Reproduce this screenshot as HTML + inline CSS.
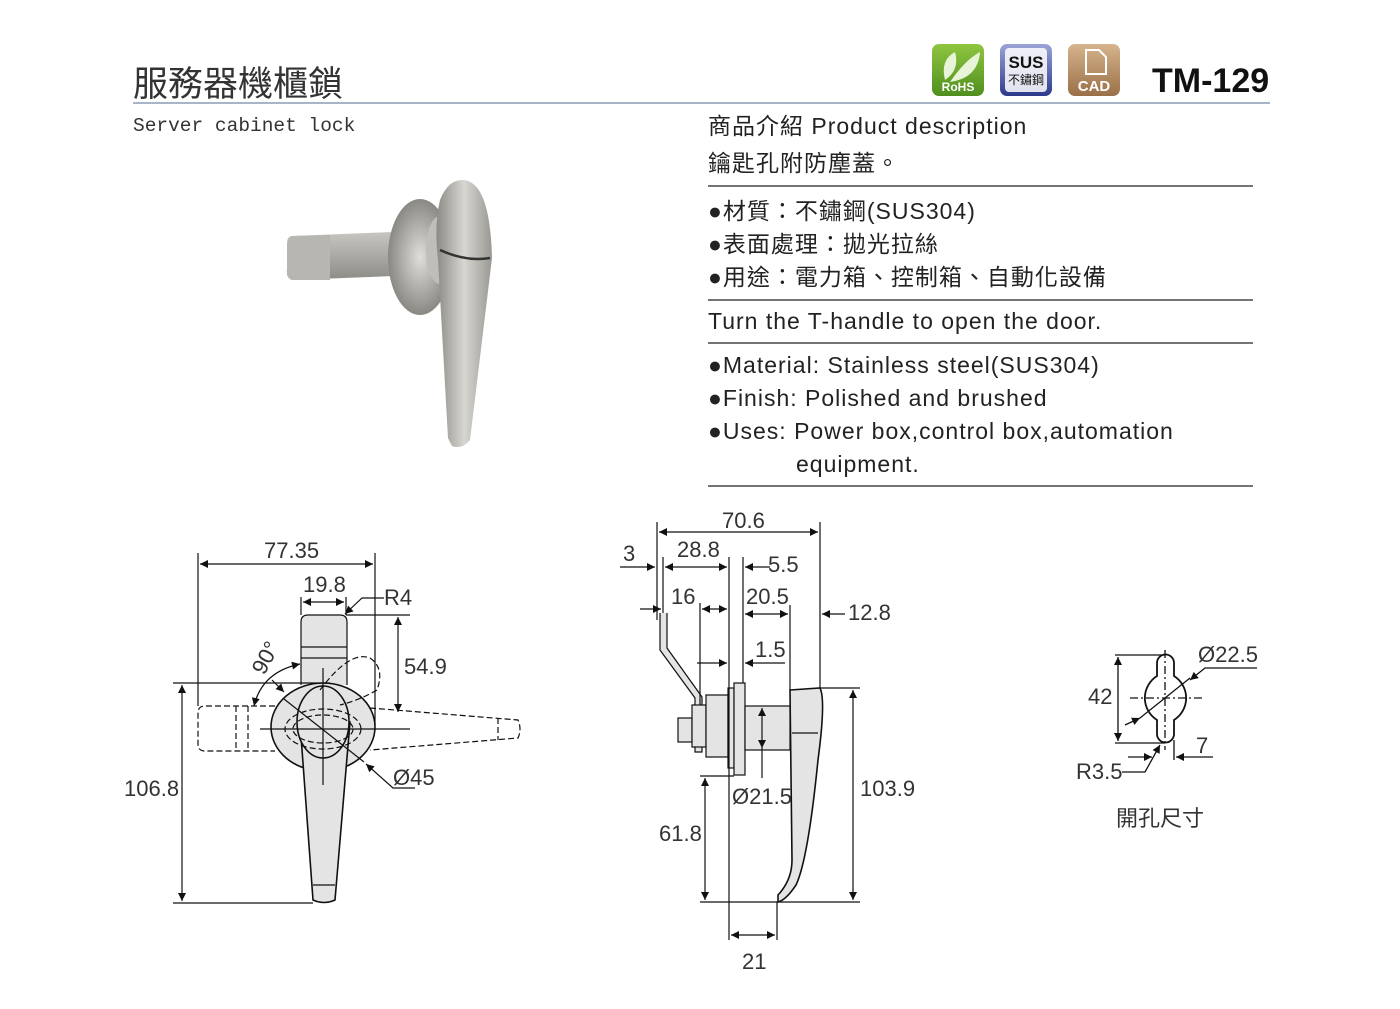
<!DOCTYPE html>
<html><head><meta charset="utf-8"><style>
body{margin:0;background:#fff;width:1400px;height:1009px;overflow:hidden;position:relative;font-family:"Liberation Sans","Noto Sans CJK TC",sans-serif;color:#222}
.t{position:absolute;white-space:nowrap}
.r{font-size:23px;left:708px;line-height:33px;letter-spacing:1px}
</style></head><body>
<div class="t" style="left:133px;top:56px;font-size:35px;color:#333">服務器機櫃鎖</div>
<div class="t" style="left:133px;top:115px;font-size:19.5px;font-family:'Liberation Mono','Noto Sans CJK TC',monospace;color:#333">Server cabinet lock</div>
<div class="t" style="left:1152px;top:62px;font-size:34px;font-weight:bold;color:#111">TM-129</div>
<div class="t r" style="top:110px">商品介紹 Product description</div>
<div class="t r" style="top:147px">鑰匙孔附防塵蓋。</div>
<div class="t r" style="top:195px">●材質：不鏽鋼(SUS304)</div>
<div class="t r" style="top:228px">●表面處理：拋光拉絲</div>
<div class="t r" style="top:261px">●用途：電力箱、控制箱、自動化設備</div>
<div class="t r" style="top:305px">Turn the T-handle to open the door.</div>
<div class="t r" style="top:349px">●Material: Stainless steel(SUS304)</div>
<div class="t r" style="top:382px">●Finish: Polished and brushed</div>
<div class="t r" style="top:415px">●Uses: Power box,control box,automation</div>
<div class="t r" style="top:448px;left:796px">equipment.</div>
<svg width="1400" height="1009" style="position:absolute;left:0;top:0" font-family="Liberation Sans, sans-serif">
<defs>
<marker id="a" viewBox="0 0 10 10" refX="10" refY="5" markerWidth="14" markerHeight="8" orient="auto-start-reverse" markerUnits="userSpaceOnUse"><path d="M0,0L10,5L0,10z" fill="#111"/></marker>
<linearGradient id="g1" x1="0" x2="1"><stop offset="0" stop-color="#8c8a84"/><stop offset=".5" stop-color="#d8d6d0"/><stop offset="1" stop-color="#9a9892"/></linearGradient>
<linearGradient id="g2" x1="0" y1="0" x2="0" y2="1"><stop offset="0" stop-color="#c8c6c0"/><stop offset="1" stop-color="#8e8c86"/></linearGradient>
<radialGradient id="g3"><stop offset="0" stop-color="#e0deda"/><stop offset="1" stop-color="#8a8882"/></radialGradient>
<linearGradient id="rohs" x1="0" y1="0" x2="0" y2="1"><stop offset="0" stop-color="#8fc640"/><stop offset="1" stop-color="#4f8f1e"/></linearGradient>
<linearGradient id="sus" x1="0" y1="0" x2="0" y2="1"><stop offset="0" stop-color="#9aa4d8"/><stop offset="1" stop-color="#2d3a8a"/></linearGradient>
<linearGradient id="cad" x1="0" y1="0" x2="0" y2="1"><stop offset="0" stop-color="#d6b48c"/><stop offset="1" stop-color="#9a7048"/></linearGradient>
</defs>
<line x1="133" y1="103" x2="1270" y2="103" stroke="#a8b4c8" stroke-width="2"/>
<rect x="932" y="44" width="52" height="52" rx="7" fill="url(#rohs)"/>
<path d="M945,80 Q940,60 955,52 Q960,70 945,80z M950,82 Q965,60 980,52 Q978,78 950,82z" fill="#e8f4d8"/>
<text x="958" y="91" font-size="12" fill="#fff" text-anchor="middle" font-weight="bold">RoHS</text>
<rect x="1000" y="44" width="52" height="52" rx="7" fill="url(#sus)"/>
<rect x="1005" y="48" width="42" height="44" rx="4" fill="#fff" opacity=".85"/>
<text x="1026" y="68" font-size="17" font-weight="bold" fill="#111" text-anchor="middle">SUS</text>
<text x="1026" y="84" font-size="12" fill="#111" text-anchor="middle" font-family="Noto Sans CJK TC">不鏽鋼</text>
<rect x="1068" y="44" width="52" height="52" rx="7" fill="url(#cad)"/>
<path d="M1086,50h13l7,7v17h-20z" fill="none" stroke="#fff" stroke-width="2"/>
<text x="1094" y="91" font-size="15" font-weight="bold" fill="#fff" text-anchor="middle">CAD</text>
<g stroke="#222" stroke-width="1.3">
<line x1="708" y1="186" x2="1253" y2="186"/><line x1="708" y1="300" x2="1253" y2="300"/>
<line x1="708" y1="343" x2="1253" y2="343"/><line x1="708" y1="486" x2="1253" y2="486"/>
</g>
<path d="M292,236 L392,232 L395,276 L292,280 Q286,278 287,270 L287,244 Q287,236 292,236z" fill="url(#g2)"/>
<path d="M292,236 L330,235 L330,280 L292,280 Q286,278 287,270 L287,244z" fill="#b8b6b0"/>
<ellipse cx="420" cy="257" rx="32" ry="58" fill="url(#g3)"/>
<ellipse cx="440" cy="250" rx="14" ry="34" fill="#c0beb8"/>
<path d="M440,200 Q448,180 462,180 Q490,180 492,258 L470,440 Q462,450 452,446 L448,438 L438,260 Q434,225 440,200z" fill="url(#g1)"/>
<path d="M440,250 Q466,262 490,258" stroke="#333" stroke-width="2.5" fill="none"/>
<g stroke="#111" stroke-width="1.2" fill="none">
<path d="M301,685 L301,622 Q301,615 308,615 L340,615 Q347,615 347,622 L347,685" fill="#e4e4e4"/>
<line x1="301" y1="647" x2="347" y2="647"/><line x1="301" y1="658" x2="347" y2="658"/>
<ellipse cx="323" cy="727" rx="52" ry="44" fill="#e4e4e4" stroke-width="1.6"/>
<path d="M300,722 L313,900 Q324,905 335,900 L350,722 Z" fill="#e4e4e4" stroke-width="1.6"/>
<ellipse cx="323" cy="722" rx="26" ry="36" fill="#e4e4e4" stroke-width="1.6"/>
<line x1="313" y1="885" x2="335" y2="885"/>
<g stroke-dasharray="6,3">
<path d="M275,706 L205,706 Q198,706 198,713 L198,744 Q198,751 205,751 L275,751"/>
<line x1="236" y1="706" x2="236" y2="751"/><line x1="248" y1="706" x2="248" y2="751"/>
<path d="M370,708 L518,720 Q522,729 518,738 L370,750"/>
<line x1="498" y1="718" x2="498" y2="740"/>
<path d="M320,690 Q350,650 370,658 Q385,668 377,690 Q360,700 340,705"/>
<ellipse cx="323" cy="729" rx="38" ry="20"/>
<ellipse cx="323" cy="729" rx="30" ry="14"/>
</g>
<line x1="198" y1="553" x2="198" y2="706"/><line x1="375" y1="553" x2="375" y2="725"/>
<line x1="301" y1="597" x2="301" y2="615"/><line x1="346" y1="597" x2="346" y2="615"/>
<line x1="346" y1="615" x2="410" y2="615"/><line x1="260" y1="729" x2="410" y2="729"/>
<line x1="323" y1="668" x2="323" y2="785"/>
<line x1="173" y1="683" x2="330" y2="683"/><line x1="173" y1="903" x2="313" y2="903"/>
<line x1="284" y1="699" x2="364" y2="762"/>
<line x1="200" y1="564" x2="373" y2="564" marker-start="url(#a)" marker-end="url(#a)"/>
<line x1="303" y1="602" x2="344" y2="602" marker-start="url(#a)" marker-end="url(#a)"/>
<line x1="182" y1="685" x2="182" y2="901" marker-start="url(#a)" marker-end="url(#a)"/>
<line x1="398" y1="617" x2="398" y2="712" marker-start="url(#a)" marker-end="url(#a)"/>
<polyline points="415,788 393,788 366,764" marker-end="url(#a)"/>
<polyline points="384,598 362,598 345,614" marker-end="url(#a)"/>
<path d="M254,706 Q262,672 300,664" marker-start="url(#a)" marker-end="url(#a)"/>
<line x1="272" y1="680" x2="284" y2="692" marker-end="url(#a)"/>
</g>
<g font-size="22" fill="#333">
<text x="264" y="558">77.35</text><text x="303" y="592">19.8</text><text x="384" y="605">R4</text>
<text x="404" y="674">54.9</text><text x="124" y="796">106.8</text><text x="393" y="785">Ø45</text>
<text x="250" y="676" transform="rotate(-62 257 664)">90°</text>
</g>
<g stroke="#111" stroke-width="1.2" fill="none">
<path d="M660,613 L660,650 L695,698 L695,752 L702,752 L702,697 L667,648 L667,613" fill="#e4e4e4"/>
<rect x="678" y="718" width="14" height="24" fill="#e4e4e4"/>
<rect x="692" y="705" width="14" height="42" fill="#e4e4e4"/>
<rect x="706" y="695" width="22" height="62" fill="#e4e4e4"/>
<rect x="728" y="688" width="6" height="80" fill="#e4e4e4"/>
<rect x="734" y="683" width="11" height="92" fill="#e4e4e4"/>
<rect x="745" y="706" width="45" height="44" fill="#e4e4e4"/>
<path d="M790,690 L820,688 Q826,700 818,760 Q808,860 796,885 Q786,900 778,902 L778,895 Q792,880 792,860 Z" fill="#e4e4e4" stroke-width="1.6"/>
<line x1="792" y1="733" x2="818" y2="733"/>
<line x1="657" y1="522" x2="657" y2="620"/><line x1="820" y1="522" x2="820" y2="688"/>
<line x1="663" y1="557" x2="663" y2="613"/><line x1="729" y1="557" x2="729" y2="940"/>
<line x1="743" y1="557" x2="743" y2="683"/><line x1="790" y1="605" x2="790" y2="690"/>
<line x1="700" y1="603" x2="700" y2="705"/><line x1="777" y1="902" x2="777" y2="940"/>
<line x1="820" y1="688" x2="860" y2="688"/><line x1="700" y1="902" x2="860" y2="902"/>
<line x1="700" y1="776" x2="734" y2="776"/>
<line x1="659" y1="532" x2="818" y2="532" marker-start="url(#a)" marker-end="url(#a)"/>
<line x1="620" y1="567" x2="655" y2="567" marker-end="url(#a)"/>
<line x1="665" y1="567" x2="727" y2="567" marker-start="url(#a)" marker-end="url(#a)"/>
<line x1="770" y1="567" x2="745" y2="567" marker-end="url(#a)"/>
<line x1="640" y1="609" x2="661" y2="609" marker-end="url(#a)"/>
<line x1="702" y1="609" x2="727" y2="609" marker-end="url(#a)" marker-start="url(#a)"/>
<line x1="745" y1="614" x2="788" y2="614" marker-start="url(#a)" marker-end="url(#a)"/>
<line x1="845" y1="614" x2="822" y2="614" marker-end="url(#a)"/>
<line x1="697" y1="663" x2="727" y2="663" marker-end="url(#a)"/>
<line x1="785" y1="663" x2="745" y2="663" marker-end="url(#a)"/>
<line x1="762" y1="708" x2="762" y2="748" marker-start="url(#a)" marker-end="url(#a)"/>
<line x1="762" y1="748" x2="762" y2="778"/>
<line x1="853" y1="690" x2="853" y2="900" marker-start="url(#a)" marker-end="url(#a)"/>
<line x1="705" y1="778" x2="705" y2="900" marker-start="url(#a)" marker-end="url(#a)"/>
<line x1="731" y1="935" x2="775" y2="935" marker-start="url(#a)" marker-end="url(#a)"/>
</g>
<g font-size="22" fill="#333">
<text x="722" y="528">70.6</text><text x="623" y="561">3</text><text x="677" y="557">28.8</text>
<text x="768" y="572">5.5</text><text x="671" y="604">16</text><text x="746" y="604">20.5</text>
<text x="848" y="620">12.8</text><text x="755" y="657">1.5</text><text x="732" y="804">Ø21.5</text>
<text x="860" y="796">103.9</text><text x="659" y="841">61.8</text><text x="742" y="969">21</text>
</g>
<g stroke="#111" stroke-width="1.3" fill="none">
<path d="M1157,676 L1157,663 A8.5,8.5 0 0 1 1174,663 L1174,676 A26,26 0 0 1 1174,720 L1174,734 A8.5,8.5 0 0 1 1157,734 L1157,720 A26,26 0 0 1 1157,676 Z" stroke-width="1.8"/>
<g stroke-dasharray="8,3,2,3"><line x1="1130" y1="698" x2="1202" y2="698"/><line x1="1165" y1="650" x2="1165" y2="750"/></g>
<line x1="1115" y1="655" x2="1165" y2="655"/><line x1="1115" y1="743" x2="1165" y2="743"/>
<line x1="1118" y1="657" x2="1118" y2="741" marker-start="url(#a)" marker-end="url(#a)"/>
<line x1="1140" y1="718" x2="1190" y2="678"/>
<line x1="1125" y1="725" x2="1140" y2="718" marker-end="url(#a)"/>
<polyline points="1257,668 1205,668 1190,680" marker-end="url(#a)"/>
<line x1="1174" y1="740" x2="1174" y2="760"/>
<line x1="1128" y1="757" x2="1152" y2="757" marker-end="url(#a)"/>
<line x1="1213" y1="757" x2="1176" y2="757" marker-end="url(#a)"/>
<polyline points="1122,772 1145,772 1160,745" marker-end="url(#a)"/>
</g>
<g font-size="22" fill="#333">
<text x="1198" y="662">Ø22.5</text><text x="1088" y="704">42</text><text x="1196" y="753">7</text>
<text x="1076" y="779">R3.5</text>
<text x="1116" y="826" font-family="Liberation Sans, Noto Sans CJK TC, sans-serif">開孔尺寸</text>
</g>
</svg>
</body></html>
